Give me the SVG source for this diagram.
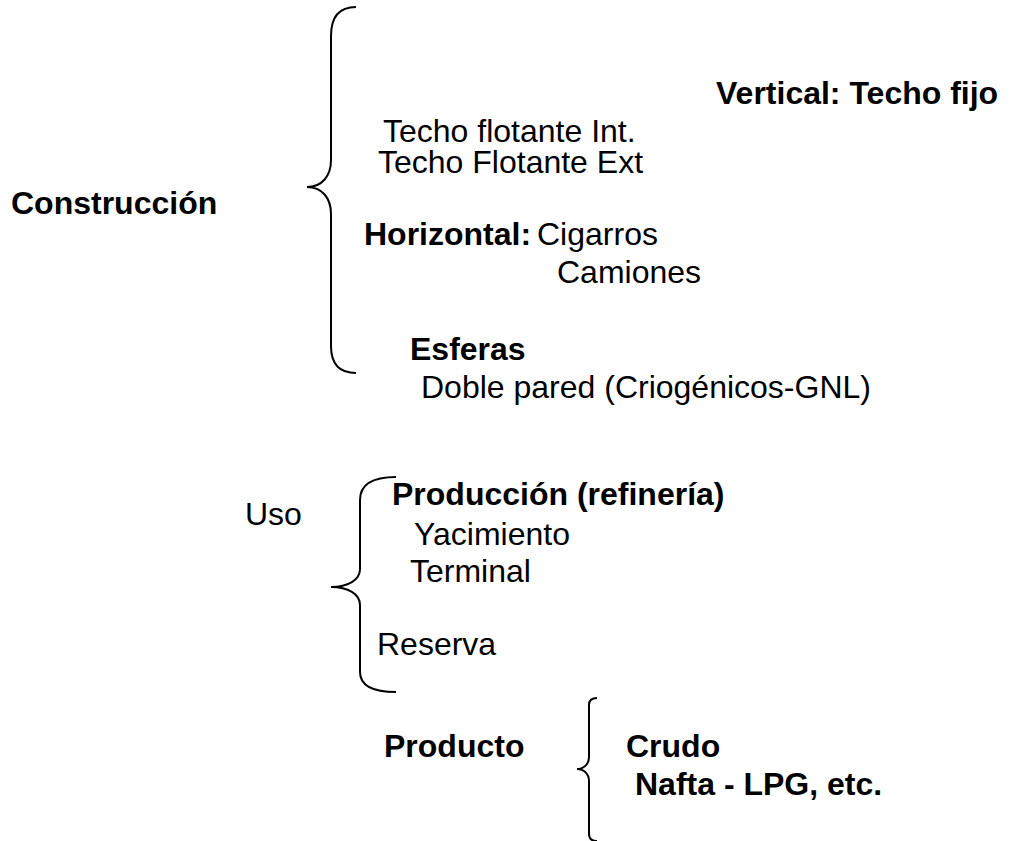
<svg xmlns="http://www.w3.org/2000/svg" width="1017" height="841" viewBox="0 0 1017 841">
  <style>
    text { font-family: "Liberation Sans", Arial, sans-serif; font-size: 32px; fill: #000; }
    .b { font-weight: bold; }
    .brace { fill: none; stroke: #000; stroke-width: 2; }
  </style>
  <rect width="1017" height="841" fill="#fff"/>

  <!-- braces -->
  <g id="connectors">
    <path class="brace" d="M356,7 C338,7 331,18 331,36 L331,160 C331,176 322,187 307,187 C322,187 331,198 331,214 L331,346 C331,362 338,373 356,373"/>
    <path class="brace" d="M396,477 C372,477 360,484 360,500 L360,569 C360,580 348,587 331,587 C348,587 360,594 360,605 L360,672 C360,686 372,692 396,692"/>
    <path class="brace" d="M597,698 C592,698 589,700 589,705 L589,757 C589,764 584,769 577,769 C584,769 589,774 589,781 L589,834 C589,839 592,841 597,841"/>
  </g>

  <g id="construccion"><text class="b" x="11" y="214">Construcción</text></g>
  <g id="vertical"><text class="b" x="716" y="104">Vertical: Techo fijo</text></g>
  <g id="techo-int"><text x="383" y="142">Techo flotante Int.</text></g>
  <g id="techo-ext"><text x="378" y="173">Techo Flotante Ext</text></g>
  <g id="horizontal">
    <text class="b" x="364" y="245">Horizontal:</text>
    <text x="537" y="245">Cigarros</text>
    <text x="557" y="283">Camiones</text>
  </g>
  <g id="esferas"><text class="b" x="410" y="360">Esferas</text></g>
  <g id="doble-pared"><text x="421" y="398">Doble pared (Criogénicos-GNL)</text></g>

  <g id="uso"><text x="245" y="525">Uso</text></g>
  <g id="produccion"><text class="b" x="392" y="505">Producción (refinería)</text></g>
  <g id="yacimiento"><text x="414" y="545">Yacimiento</text></g>
  <g id="terminal"><text x="410" y="582">Terminal</text></g>
  <g id="reserva"><text x="377" y="655">Reserva</text></g>

  <g id="producto"><text class="b" x="384" y="757">Producto</text></g>
  <g id="crudo"><text class="b" x="626" y="757">Crudo</text></g>
  <g id="nafta"><text class="b" x="635" y="795">Nafta - LPG, etc.</text></g>
</svg>
